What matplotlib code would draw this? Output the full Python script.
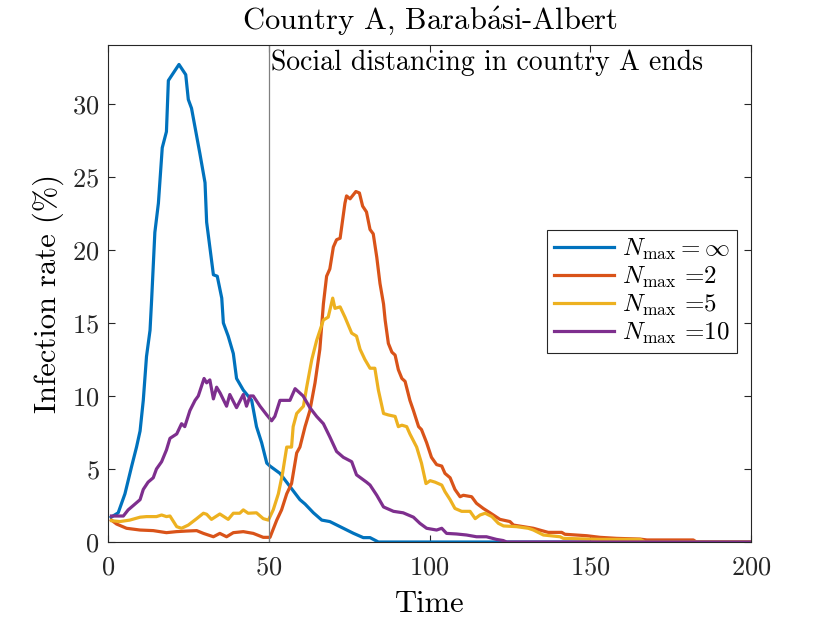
import matplotlib
matplotlib.use("Agg")
import matplotlib.pyplot as plt

plt.rcParams["font.family"] = ["cmr10", "DejaVu Serif"]
plt.rcParams["mathtext.fontset"] = "cm"
plt.rcParams["axes.formatter.use_mathtext"] = True

# Datos
t_inf = [1, 3.2, 5.3, 7.4, 8.9, 10, 11, 12, 13.1, 13.6, 14.6, 15.7, 16.9, 18.2, 18.8, 22.1, 24.2, 25, 26,
         28.6, 30.2, 30.7, 32.8, 34, 35.4, 35.9, 37.4, 39, 40, 42.1, 44.7, 46.2, 47.8, 49.4, 50.4, 53.5,
         56.6, 59.7, 61.3, 63.9, 66.5, 69, 72.2, 76.3, 79.4, 81.5, 84.1, 200]
y_inf = [1.7, 2.0, 3.3, 5.2, 6.5, 7.6, 9.7, 12.7, 14.5, 16.6, 21.2, 23.2, 27.0, 28.1, 31.6, 32.7, 32.0, 30.3, 29.7,
         26.6, 24.6, 21.9, 18.3, 18.2, 16.7, 15.0, 14.1, 12.9, 11.2, 10.4, 9.7, 7.9, 6.8, 5.4, 5.2, 4.7,
         3.8, 2.9, 2.6, 2.0, 1.5, 1.4, 1.05, 0.6, 0.3, 0.3, 0, 0]

t_n2 = [1.1, 2.7, 5.8, 10, 14.1, 18.2, 21.3, 24.4, 27.6, 29.7, 32.8, 34.8, 36.9, 39, 42.1, 45.2, 48.3, 50.4,
        52.5, 54, 55.6, 57.1, 58.7, 59.7, 61.3, 62.8, 64.4, 65.9, 67, 68, 69, 70.1, 71.1, 72.2, 73.7, 74.2,
        75.3, 77.1, 78.2, 79.2, 80.4, 81.5, 82.5, 83.6, 84.6, 85.7, 86.2, 87.2, 88.3, 89.3, 90.3, 91.4, 92.4,
        93.9, 95, 96.6, 97.5, 99.1, 100.6, 102.2, 103.8, 104.8, 106.4, 107.9, 109.5, 110.5, 113.1, 114.6,
        116.7, 118.8, 121.9, 125, 126.1, 129.2, 132.3, 134.9, 136.9, 141.1, 142.1, 148.9, 153, 158.2, 165.5,
        167.6, 182, 183, 200]
y_n2 = [1.5, 1.23, 0.94, 0.82, 0.78, 0.64, 0.71, 0.75, 0.78, 0.59, 0.36, 0.59, 0.36, 0.64, 0.71, 0.59, 0.32, 0.32,
        1.5, 2.2, 3.3, 4.0, 6.1, 6.5, 7.9, 9.0, 10.9, 13.2, 16.3, 18.2, 18.7, 20.2, 20.7, 20.8, 23.2, 23.7,
        23.5, 24.0, 23.9, 23.0, 22.6, 21.4, 21.1, 19.5, 17.7, 16.3, 15.2, 13.6, 13.0, 12.8, 11.8, 11.2, 11.0,
        9.7, 9.0, 7.9, 7.7, 6.8, 5.8, 5.3, 5.2, 4.7, 4.4, 3.6, 3.1, 3.2, 3.1, 2.65,
        2.3, 2.0, 1.55, 1.4, 1.16, 1.05, 0.94, 0.78, 0.66, 0.66, 0.53, 0.43, 0.32, 0.25, 0.2,
        0.14, 0.14, 0, 0]

t_n5 = [1.1, 3.7, 6.8, 10, 12, 15.1, 16.7, 18.2, 19.3, 21.4, 22.9, 25, 27.6, 29.7, 30.7, 32.2, 34.8, 37.4, 39,
        41, 42.1, 43.6, 46.2, 48.3, 49.9, 51.4, 53, 54.3, 55.6, 57.1, 57.6, 58.7, 60.8, 61.8, 63.4, 64.9, 67,
        68.5, 69.9, 70.6, 72.2, 73.7, 75.8, 77.3, 78.4, 79.9, 81.5, 83, 84.1, 85.7, 87.2, 89.3, 90.3, 91.4,
        92.9, 93.9, 96, 97.5, 98.9, 100.2, 101.7, 103.8, 104.8, 106.4, 107.9, 110, 112.6, 114.2, 115.7,
        117.3, 119.4, 121.4, 123, 127.1, 130.7, 132.3, 135.4, 140.6, 141.6, 153, 165.5, 167, 200]
y_n5 = [1.46, 1.4, 1.5, 1.7, 1.74, 1.74, 1.85, 1.74, 1.78, 1.05, 0.94, 1.16, 1.6, 1.97, 1.9, 1.55, 1.92, 1.55, 1.97,
        1.97, 2.2, 1.97, 2.0, 1.6, 1.5, 2.2, 3.3, 4.7, 6.5, 6.5, 7.9, 8.8, 9.3, 10.6, 12.5, 13.8, 15.2,
        15.4, 16.7, 16.0, 16.1, 15.4, 14.3, 14.1, 13.2, 12.5, 11.9, 11.9, 10.4, 8.8, 8.7, 8.6, 7.9, 8.0,
        7.9, 7.4, 6.5, 5.4, 4.0, 4.2, 4.1, 3.9, 3.45, 2.9, 2.3, 2.1, 2.1, 1.6, 1.85,
        1.97, 1.74, 1.28, 1.1, 1.05, 0.94, 0.82, 0.48, 0.36, 0.25, 0.18, 0.18, 0, 0]

t_n10 = [1.1, 4.8, 6.3, 7.9, 10, 11, 12.5, 14.1, 15.1, 16.7, 18.2, 19.3, 21.4, 22.9, 23.9, 25.5, 27.1, 28.1,
         29.9, 30.7, 31.7, 32.8, 33.8, 34.9, 36.9, 37.9, 40, 42.1, 43.1, 44.2, 45.2, 47.3, 49.4, 50.9, 51.9,
         53.5, 55, 56.6, 58.2, 60.7, 62.8, 64.9, 67, 69, 71.1, 73.2, 75.8, 77.3, 80.4, 81.5, 83.6, 85.7, 88.8,
         91.8, 95, 97, 99.1, 102.2, 103.8, 105.3, 108.4, 111.5, 114.6, 117.7, 120.8, 122.9, 124, 200]
y_n10 = [1.78, 1.78, 2.2, 2.5, 2.9, 3.6, 4.1, 4.4, 5.0, 5.5, 6.3, 7.1, 7.4, 8.1, 7.9, 9.0, 9.7, 10.0,
         11.2, 10.9, 11.1, 9.8, 10.6, 10.2, 9.3, 10.1, 9.2, 10.1, 9.3, 10.0, 10.0, 9.3, 8.7, 8.3, 8.6,
         9.7, 9.7, 9.7, 10.5, 10.0, 9.2, 8.6, 8.1, 7.2, 6.2, 5.8, 5.5, 4.6, 4.1, 3.9, 3.2, 2.4, 2.1,
         2.0, 1.7, 1.28, 0.94, 0.82, 0.94, 0.59, 0.55, 0.48, 0.36, 0.36, 0.18, 0.1, 0, 0]

etiquetas = [r"$N_{\max}=\infty$", r"$N_{\max}$ =2", r"$N_{\max}$ =5", r"$N_{\max}$ =10"]
colores = ["#0072BD", "#D95319", "#EDB120", "#7E2F8E"]

fig = plt.figure(figsize=(8.3, 6.23), dpi=100)
ax = fig.add_axes([0.130, 0.130, 0.775, 0.797])

series = [(t_inf, y_inf), (t_n2, y_n2), (t_n5, y_n5), (t_n10, y_n10)]
for (t, y), lbl, c in zip(series, etiquetas, colores):
    ax.plot(t, y, color=c, lw=2.3, label=lbl)

ax.axvline(50, color="#808080", lw=0.9)
ax.text(50.8, 32.8, "Social distancing in country A ends", fontsize=20, va="center", ha="left")

ax.set_xlim(0, 200)
ax.set_ylim(0, 34)
ax.set_xticks([0, 50, 100, 150, 200])
ax.set_yticks([0, 5, 10, 15, 20, 25, 30])
ax.tick_params(direction="in", top=True, right=True, labelsize=19, colors="#262626", length=5)
ax.tick_params(axis="x", pad=10)
ax.tick_params(axis="y", pad=6)
for s in ax.spines.values():
    s.set_color("#262626")
    s.set_linewidth(0.8)

ax.set_xlabel("Time", fontsize=22, labelpad=8)
ax.set_ylabel("Infection rate (%)", fontsize=22, labelpad=6)
ax.set_title(r"Country A, Barab$\acute{\mathrm{a}}$si-Albert", fontsize=22, pad=12)

leg = ax.legend(loc="upper right", bbox_to_anchor=(0.978, 0.629), fontsize=18, fancybox=False,
                framealpha=1, edgecolor="#262626", handlelength=2.4, borderpad=0.3,
                labelspacing=0.1, handletextpad=0.3, borderaxespad=0)
leg.get_frame().set_linewidth(0.8)

fig.savefig("out.png", dpi=100)
